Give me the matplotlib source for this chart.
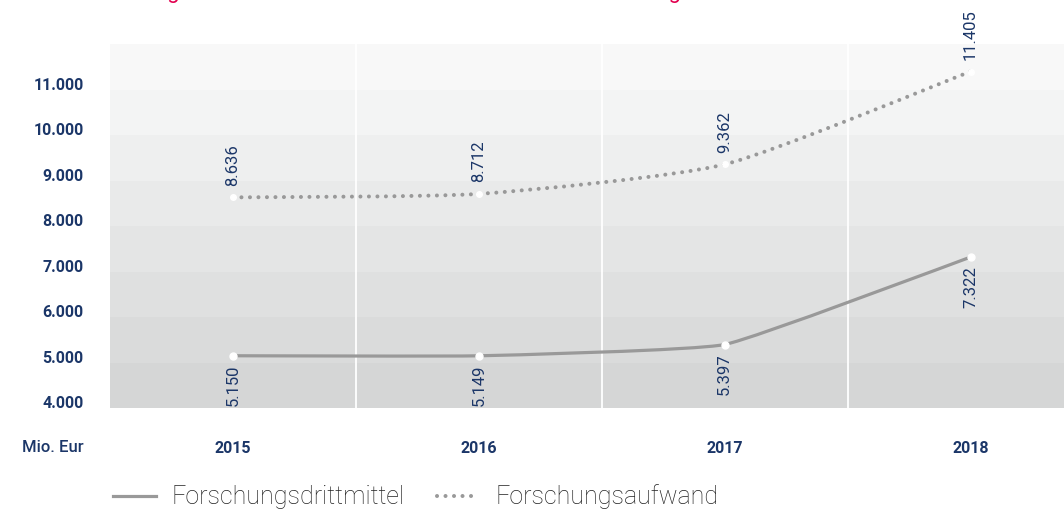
import matplotlib
matplotlib.use("Agg")
import matplotlib.pyplot as plt
from matplotlib.path import Path
from matplotlib.patches import PathPatch
from matplotlib.lines import Line2D

# data
years = ["2015", "2016", "2017", "2018"]
drittmittel = [5150, 5149, 5397, 7322]
aufwand = [8636, 8712, 9362, 11405]
drittmittel_labels = ["5.150", "5.149", "5.397", "7.322"]
aufwand_labels = ["8.636", "8.712", "9.362", "11.405"]
yticks = [4000, 5000, 6000, 7000, 8000, 9000, 10000, 11000]
ytick_labels = ["4.000", "5.000", "6.000", "7.000", "8.000", "9.000", "10.000", "11.000"]
band_colors = ["#d5d6d6", "#dadbdb", "#dfe0e0", "#e4e5e5", "#e9eaea", "#eeefef", "#f3f4f4", "#f8f8f8"]

NAVY = "#1b3668"
LINE = "#999999"
FONT = ["Roboto", "DejaVu Sans"]
DOTS = (0, (0.01, 2.1))


def smooth_path(xs, ys, k=0.1):
    # bezier through the points, small tension
    pts = list(zip(xs, ys))
    verts = [pts[0]]
    codes = [Path.MOVETO]
    for i in range(len(pts) - 1):
        p0 = pts[i - 1] if i > 0 else pts[i]
        p1, p2 = pts[i], pts[i + 1]
        p3 = pts[i + 2] if i + 2 < len(pts) else pts[i + 1]
        c1 = (p1[0] + k * (p2[0] - p0[0]), p1[1] + k * (p2[1] - p0[1]))
        c2 = (p2[0] - k * (p3[0] - p1[0]), p2[1] - k * (p3[1] - p1[1]))
        verts += [c1, c2, p2]
        codes += [Path.CURVE4] * 3
    return Path(verts, codes)


fig = plt.figure(figsize=(10.64, 5.11), dpi=100)
ax = fig.add_axes([110 / 1064, 103 / 511, 954 / 1064, 363.5 / 511])
ax.set_xlim(-0.5, 3.38)
ax.set_ylim(4000, 12000)

# gradient bands
for i, c in enumerate(band_colors):
    ax.axhspan(4000 + i * 1000, 5000 + i * 1000, color=c, lw=0, zorder=0)
for xv in [0.5, 1.5, 2.5]:
    ax.axvline(xv, color="white", lw=1.3, zorder=1)

for s in ax.spines.values():
    s.set_visible(False)

x = list(range(len(years)))

# solid line
ax.add_patch(PathPatch(smooth_path(x, drittmittel, 0.06), fill=False,
                       edgecolor=LINE, lw=2.3, capstyle="round", zorder=3))
ax.plot(x, drittmittel, lw=0, marker="o", ms=5, mfc="white", mec="white", zorder=4)

# dotted line
ax.add_patch(PathPatch(smooth_path(x, aufwand, 0.1), fill=False,
                       edgecolor=LINE, lw=2.9, linestyle=DOTS,
                       capstyle="round", zorder=3))
ax.plot(x, aufwand, lw=0, marker="o", ms=4, mfc="white", mec="white", zorder=4)

# value labels
for xi, v, t in zip(x, aufwand, aufwand_labels):
    ax.annotate(t, (xi, v), xytext=(0, 8.5), textcoords="offset points",
                rotation=90, ha="center", va="bottom", color=NAVY,
                fontsize=12, family=FONT, annotation_clip=False, zorder=5)
for xi, v, t in zip(x, drittmittel, drittmittel_labels):
    ax.annotate(t, (xi, v), xytext=(0, -6.5), textcoords="offset points",
                rotation=90, ha="center", va="top", color=NAVY,
                fontsize=12, family=FONT, annotation_clip=False, zorder=5)

# axes ticks
ax.set_yticks(yticks)
ax.set_yticklabels(ytick_labels, family=FONT, fontsize=11.5,
                   fontweight="bold", color=NAVY)
for lab in ax.get_yticklabels():
    lab.set_verticalalignment("baseline")
ax.tick_params(axis="y", length=0, pad=19)
ax.set_xticks(x)
ax.set_xticklabels(years, family=FONT, fontsize=11.5,
                   fontweight="bold", color=NAVY)
ax.tick_params(axis="x", length=0, pad=24)

fig.text(84 / 1064, 1 - 448 / 511, "Mio. Eur", ha="right", va="center",
         family=FONT, fontsize=12, fontweight="medium", color=NAVY)

# title, cut off at the top edge as in the source
fig.text(60 / 1064, 1.004,
         "Entwicklung der Drittmittel und des Aufwands in der Forschung",
         ha="left", va="baseline", color="#e2004f", fontsize=16, family=FONT)

# legend
handles = [
    Line2D([], [], color=LINE, lw=2.3),
    Line2D([], [], color=LINE, lw=2.9, linestyle=DOTS, dash_capstyle="round"),
]
fig.legend(handles, ["Forschungsdrittmittel", "Forschungsaufwand"],
           loc="center left", bbox_to_anchor=(113 / 1064, 1 - 497 / 511),
           ncol=2, frameon=False, handlelength=1.7, handletextpad=0.64,
           columnspacing=1.28,
           prop={"family": FONT, "size": 18, "weight": "light"},
           labelcolor="#222222", borderaxespad=0, borderpad=0)

fig.savefig("out.png", dpi=100)
